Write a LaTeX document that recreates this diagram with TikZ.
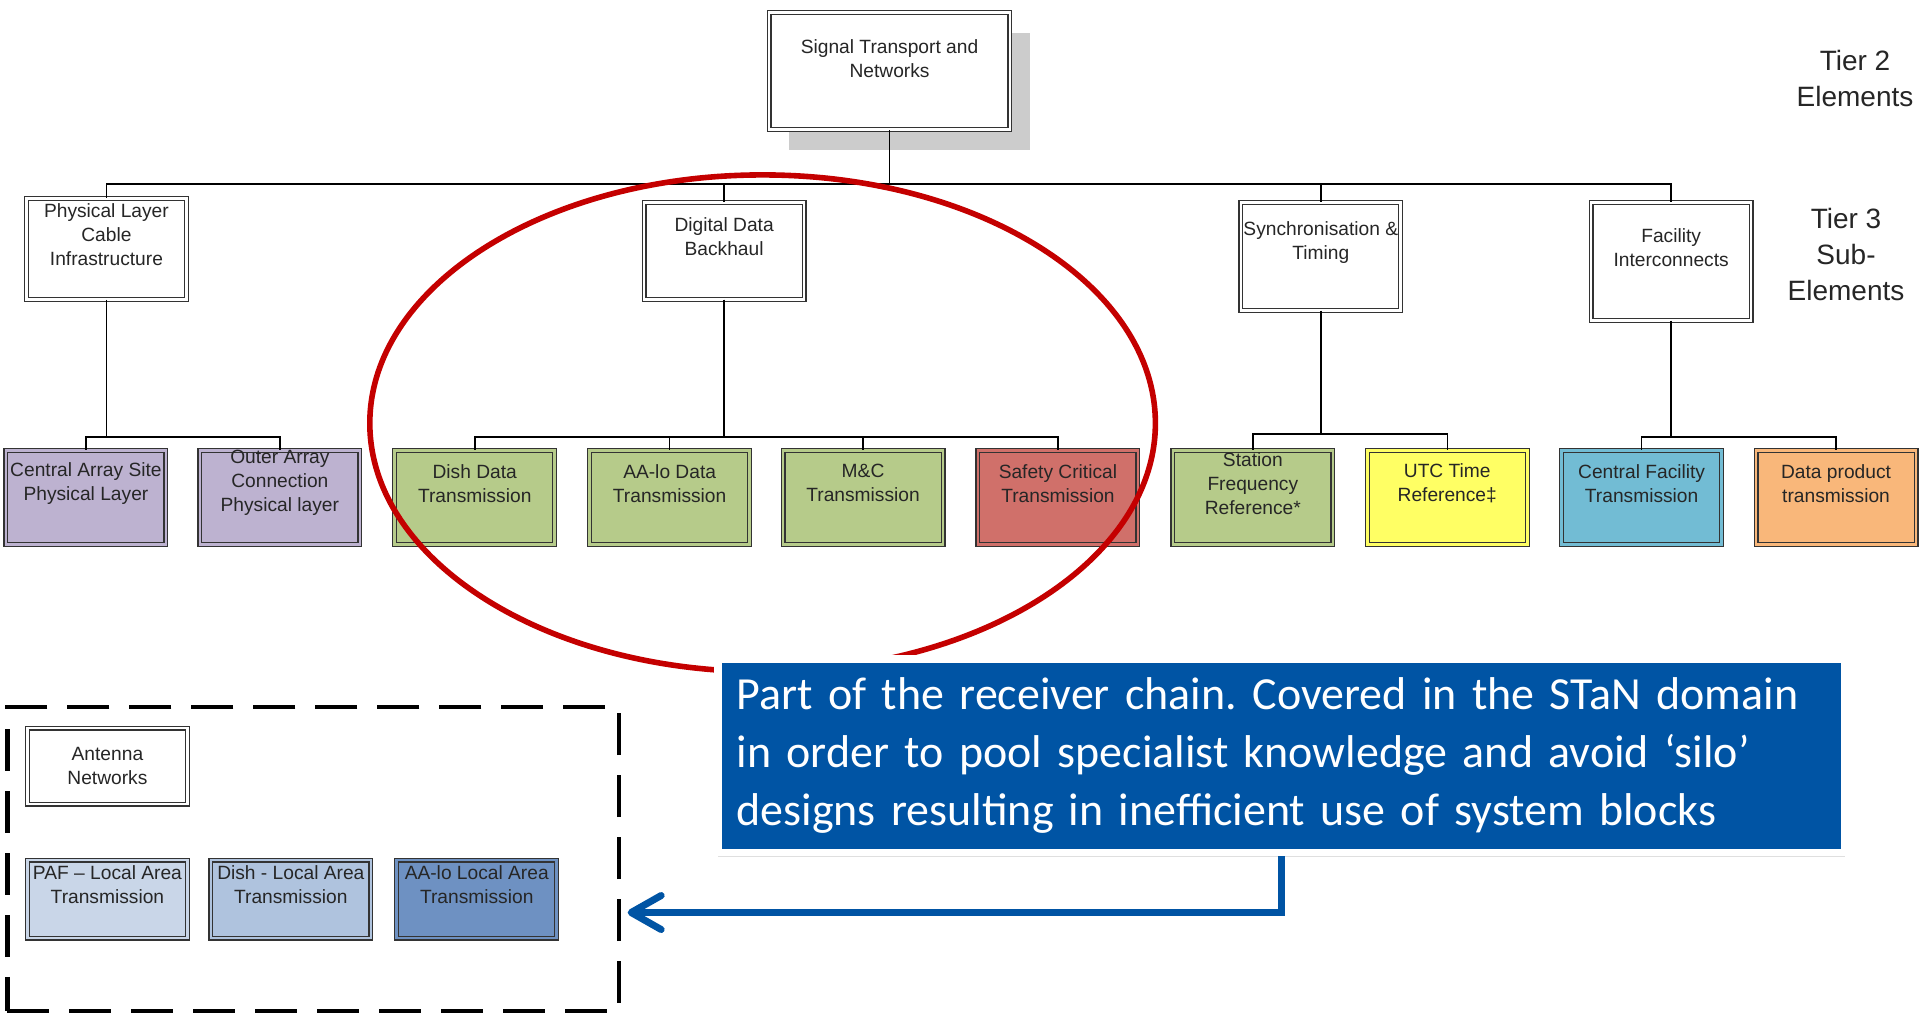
\documentclass[tikz,border=0pt]{standalone}
\usepackage{fontspec}
\setmainfont{Liberation Sans}
\newfontfamily\notefont[WordSpace=0.85]{Carlito}
\usetikzlibrary{arrows.meta,shadows}

\definecolor{lilac}{RGB}{189,178,208}
\definecolor{leafgreen}{RGB}{182,203,138}
\definecolor{leafred}{RGB}{208,112,106}
\definecolor{leafyellow}{RGB}{255,255,100}
\definecolor{leafcyan}{RGB}{114,188,212}
\definecolor{leaforange}{RGB}{249,183,122}
\definecolor{lanpale}{RGB}{201,214,232}
\definecolor{lanmid}{RGB}{175,195,222}
\definecolor{landark}{RGB}{110,145,194}
\definecolor{noteblue}{RGB}{0,84,164}
\definecolor{ringred}{RGB}{196,0,0}

\begin{document}
\begin{tikzpicture}[
    x=0.5pt, y=-0.5pt,
    frame/.style={draw=black!80, fill=#1, double=#1, double distance=1.3pt,
      line width=0.6pt, inner sep=0pt, minimum width=80pt},
    frame/.default=white,
    tierbox/.style={frame, minimum height=#1},
    leaf/.style={frame=#1, minimum height=47pt},
    lanbox/.style={frame=#1, minimum height=39pt},
    boxtext/.style={anchor=center, yshift=7pt, align=center, text=black!85,
      font=\fontsize{9.6}{12}\selectfont},
    tiertext/.style={align=center, text=black!85, font=\fontsize{14}{18}\selectfont},
    link/.style={draw=black, line width=0.75pt},
    ring/.style={draw=ringred, line width=2.8pt},
    lanframe/.style={draw=black, line width=2.25pt, dash pattern=on 21pt off 10pt,
      minimum width=306pt, minimum height=152pt, inner sep=0pt},
    note/.style={fill=noteblue, draw=white, line width=3.75pt, text=white,
      font=\notefont\fontsize{23}{29}\selectfont\frenchspacing, align=left, text width=545pt,
      inner xsep=9.4pt, minimum height=96.75pt,
      drop shadow={shadow xshift=0pt, shadow yshift=-2.5pt, opacity=0.25}},
    pointer/.style={draw=noteblue, line width=3.5pt,
      -{Straight Barb[length=15pt, width=17pt, round]}},
  ]

    % Tier 2
    \node[frame, minimum width=120.5pt, minimum height=58.5pt,
      drop shadow={shadow xshift=10pt, shadow yshift=-10.5pt, fill=black!20, opacity=1},
      label={[boxtext, yshift=-0.75pt]center:Signal Transport and\\Networks}] (stan) at (890,71) {};

    % Tier 3
    \node[tierbox=50.5pt, label={[boxtext]center:Physical Layer\\Cable\\Infrastructure}] (phys) at (106.5,249) {};
    \node[tierbox=48.5pt, label={[boxtext]center:Digital Data\\Backhaul}] (backhaul) at (724.5,251) {};
    \node[tierbox=54pt, label={[boxtext]center:Synchronisation \&\\Timing}] (sync) at (1321.5,256.5) {};
    \node[tierbox=59pt, label={[boxtext]center:Facility\\Interconnects}] (facility) at (1672,261.5) {};

    % Sub-elements
    \node[leaf=lilac, label={[boxtext]center:Central Array Site\\Physical Layer}] (cas) at (86,497.5) {};
    \node[leaf=lilac, label={[boxtext]center:Outer Array\\Connection\\Physical layer}] (oac) at (280,497.5) {};
    \node[leaf=leafgreen, label={[boxtext]center:Dish Data\\Transmission}] (dishdt) at (475,497.5) {};
    \node[leaf=leafgreen, label={[boxtext]center:AA-lo Data\\Transmission}] (aalodt) at (670,497.5) {};
    \node[leaf=leafgreen, label={[boxtext]center:M\&C\\Transmission}] (mc) at (863.5,497.5) {};
    \node[leaf=leafred, label={[boxtext]center:Safety Critical\\Transmission}] (safety) at (1058.5,497.5) {};
    \node[leaf=leafgreen, label={[boxtext]center:Station\\Frequency\\Reference*}] (freq) at (1253.5,497.5) {};
    \node[leaf=leafyellow, label={[boxtext]center:UTC Time\\Reference‡}] (utc) at (1448,497.5) {};
    \node[leaf=leafcyan, label={[boxtext]center:Central Facility\\Transmission}] (cft) at (1642.5,497.5) {};
    \node[leaf=leaforange, label={[boxtext]center:Data product\\transmission}] (dpt) at (1837,497.5) {};

    % Tree connections
    \foreach \sub in {phys,backhaul,sync,facility}
      \draw[link] (stan.south) -- ++(0,54) -| (\sub.north);
    \foreach \kid in {cas,oac}
      \draw[link] (phys.south) -- ++(0,137) -| (\kid.north);
    \foreach \kid in {dishdt,aalodt,mc,safety}
      \draw[link] (backhaul.south) -- ++(0,137) -| (\kid.north);
    \foreach \kid in {freq,utc}
      \draw[link] (sync.south) -- ++(0,123) -| (\kid.north);
    \foreach \kid in {cft,dpt}
      \draw[link] (facility.south) -- ++(0,116) -| (\kid.north);

    % Highlight
    \draw[ring] (763,423.5) ellipse [x radius=196.5pt, y radius=124.25pt];

    % Antenna networks
    \node[lanframe] (lan) at (313.5,859.5) {};
    \node[tierbox=38pt, label={[boxtext, yshift=-7pt]center:Antenna\\Networks}] (antnet) at (107.5,766.5) {};
    \node[lanbox=lanpale, label={[boxtext]center:PAF – Local Area\\Transmission}] (paf) at (107.5,899.5) {};
    \node[lanbox=lanmid, label={[boxtext]center:Dish - Local Area\\Transmission}] (dishlan) at (291,899.5) {};
    \node[lanbox=landark, label={[boxtext]center:AA-lo Local Area\\Transmission}] (aalolan) at (477,899.5) {};

    % Callout
    \node[note] (note) at (1282,756) {Part of the receiver chain. Covered in the STaN domain\\in order to pool specialist knowledge and avoid ‘silo’\\designs resulting in inefficient use of system blocks};
    \coordinate (tip) at (628,913);
    \draw[pointer] (note.south) |- (tip);

    % Tier labels
    \node[tiertext] (tier2) at (1856,79) {Tier 2\\Elements};
    \node[tiertext] (tier3) at (1847,255) {Tier 3\\Sub-\\Elements};

    \useasboundingbox (0,0) rectangle (1920,1017);
  \end{tikzpicture}
\end{document}
